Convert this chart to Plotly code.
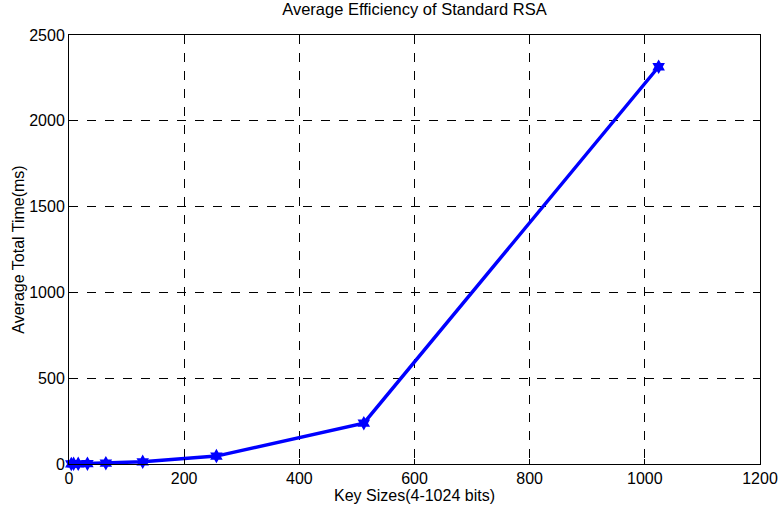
import plotly.graph_objects as go

key_sizes = [4, 8, 16, 32, 64, 128, 256, 512, 1024]
avg_time = [0.5, 0.8, 1.2, 2, 5, 13, 46, 238, 2315]
x_ticks = [0, 200, 400, 600, 800, 1000, 1200]
y_ticks = [0, 500, 1000, 1500, 2000, 2500]

FONT = "Liberation Sans, Arial"

fig = go.Figure()
fig.add_trace(go.Scatter(
    x=key_sizes, y=avg_time, mode="lines+markers",
    line=dict(color="#0000FF", width=3.5),
    marker=dict(symbol="hexagram", size=11, color="#0000FF"),
    cliponaxis=False,
))

axis_common = dict(
    showline=True, linecolor="black", linewidth=1, mirror="ticks",
    ticks="inside", ticklen=5, tickcolor="black",
    showgrid=True, gridcolor="black", griddash="dash", gridwidth=1,
    zeroline=False, automargin=False,
    tickfont=dict(family=FONT, size=16, color="black"),
)

fig.update_layout(
    width=779, height=508,
    margin=dict(l=69, r=19, t=35, b=44),
    paper_bgcolor="white", plot_bgcolor="white",
    showlegend=False,
    title=dict(text="Average Efficiency of Standard RSA", x=0.532, xanchor="center",
               y=0.994, yanchor="top",
               font=dict(family=FONT, size=16.5, color="black")),
    xaxis=dict(range=[0, 1200], tickvals=x_ticks, **axis_common,
               title=dict(text="Key Sizes(4-1024 bits)", standoff=1,
                          font=dict(family=FONT, size=16, color="black"))),
    yaxis=dict(range=[0, 2500], tickvals=y_ticks, **axis_common,
               title=dict(text="Average Total Time(ms)", standoff=0,
                          font=dict(family=FONT, size=16, color="black"))),
)

fig.write_html("out.html")
